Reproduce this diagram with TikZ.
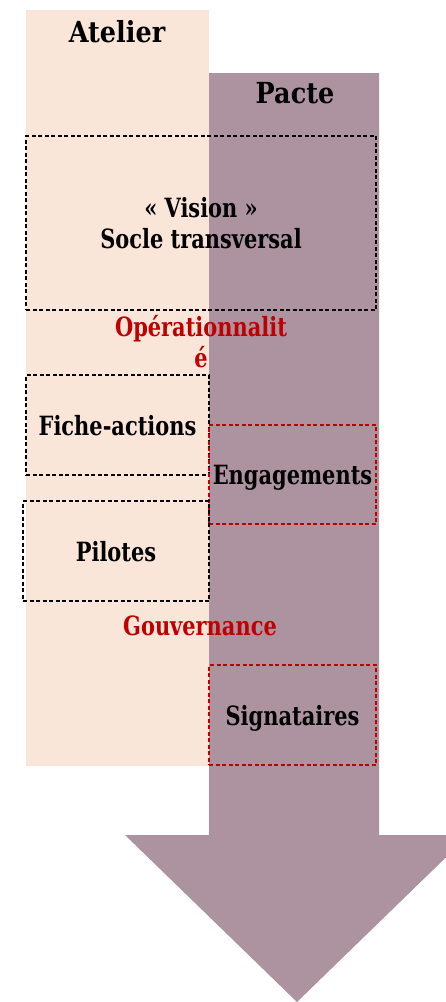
\documentclass[tikz,border=0pt]{standalone}
\usepackage{fontspec}
\setmainfont{DejaVu Serif}[FakeStretch=0.79]
\newfontfamily\titlefont{DejaVu Serif}[FakeStretch=0.88]
\definecolor{peach}{HTML}{FAE5D9}
\definecolor{mauve}{HTML}{AC939F}
\definecolor{darkred}{HTML}{C00000}
\begin{document}
\begin{tikzpicture}[x=1pt,y=-1pt,
  txt/.style={font=\fontsize{26.5}{31}\selectfont\bfseries, align=center, inner sep=0pt, text depth=0pt},
  ttl/.style={font=\titlefont\fontsize{29}{33}\selectfont\bfseries, inner sep=0pt},
  blackbox/.style={draw=black, line width=1.1pt, dash pattern=on 4pt off 2.5pt, inner sep=0pt},
  redbox/.style={draw=darkred, line width=1.1pt, dash pattern=on 4pt off 2.5pt, inner sep=0pt},
  redtxt/.style={txt, text=darkred}]
\clip (0,0) rectangle (446,1002);
% Atelier band
\fill[peach] (26,10) rectangle (209,766);
% Pacte arrow
\fill[mauve] (209,73) -- (379,73) -- (379,835) -- (469,835) -- (297,1002) -- (125,835) -- (209,835) -- cycle;
% titles
\node[ttl] (atelier) at (117,32) {Atelier};
\node[ttl] (pacte) at (295,93) {Pacte};
% boxes
\node[blackbox, minimum width=350pt, minimum height=174pt, txt] (vision) at (201,223) {« Vision »\\Socle transversal};
\node[redtxt] (oper) at (201,341) {Opérationnalit\\é};
\node[blackbox, minimum width=183pt, minimum height=100pt, txt] (fiche) at (117.5,425) {Fiche-actions};
\node[redbox, minimum width=167pt, minimum height=99pt, txt] (engag) at (292.5,474.5) {Engagements};
\node[blackbox, minimum width=186pt, minimum height=100pt, txt] (pilotes) at (116,551) {Pilotes};
\node[redtxt] (gouv) at (200,626) {Gouvernance};
\node[redbox, minimum width=167pt, minimum height=100pt, txt] (sign) at (292.5,715) {Signataires};
\end{tikzpicture}
\end{document}
